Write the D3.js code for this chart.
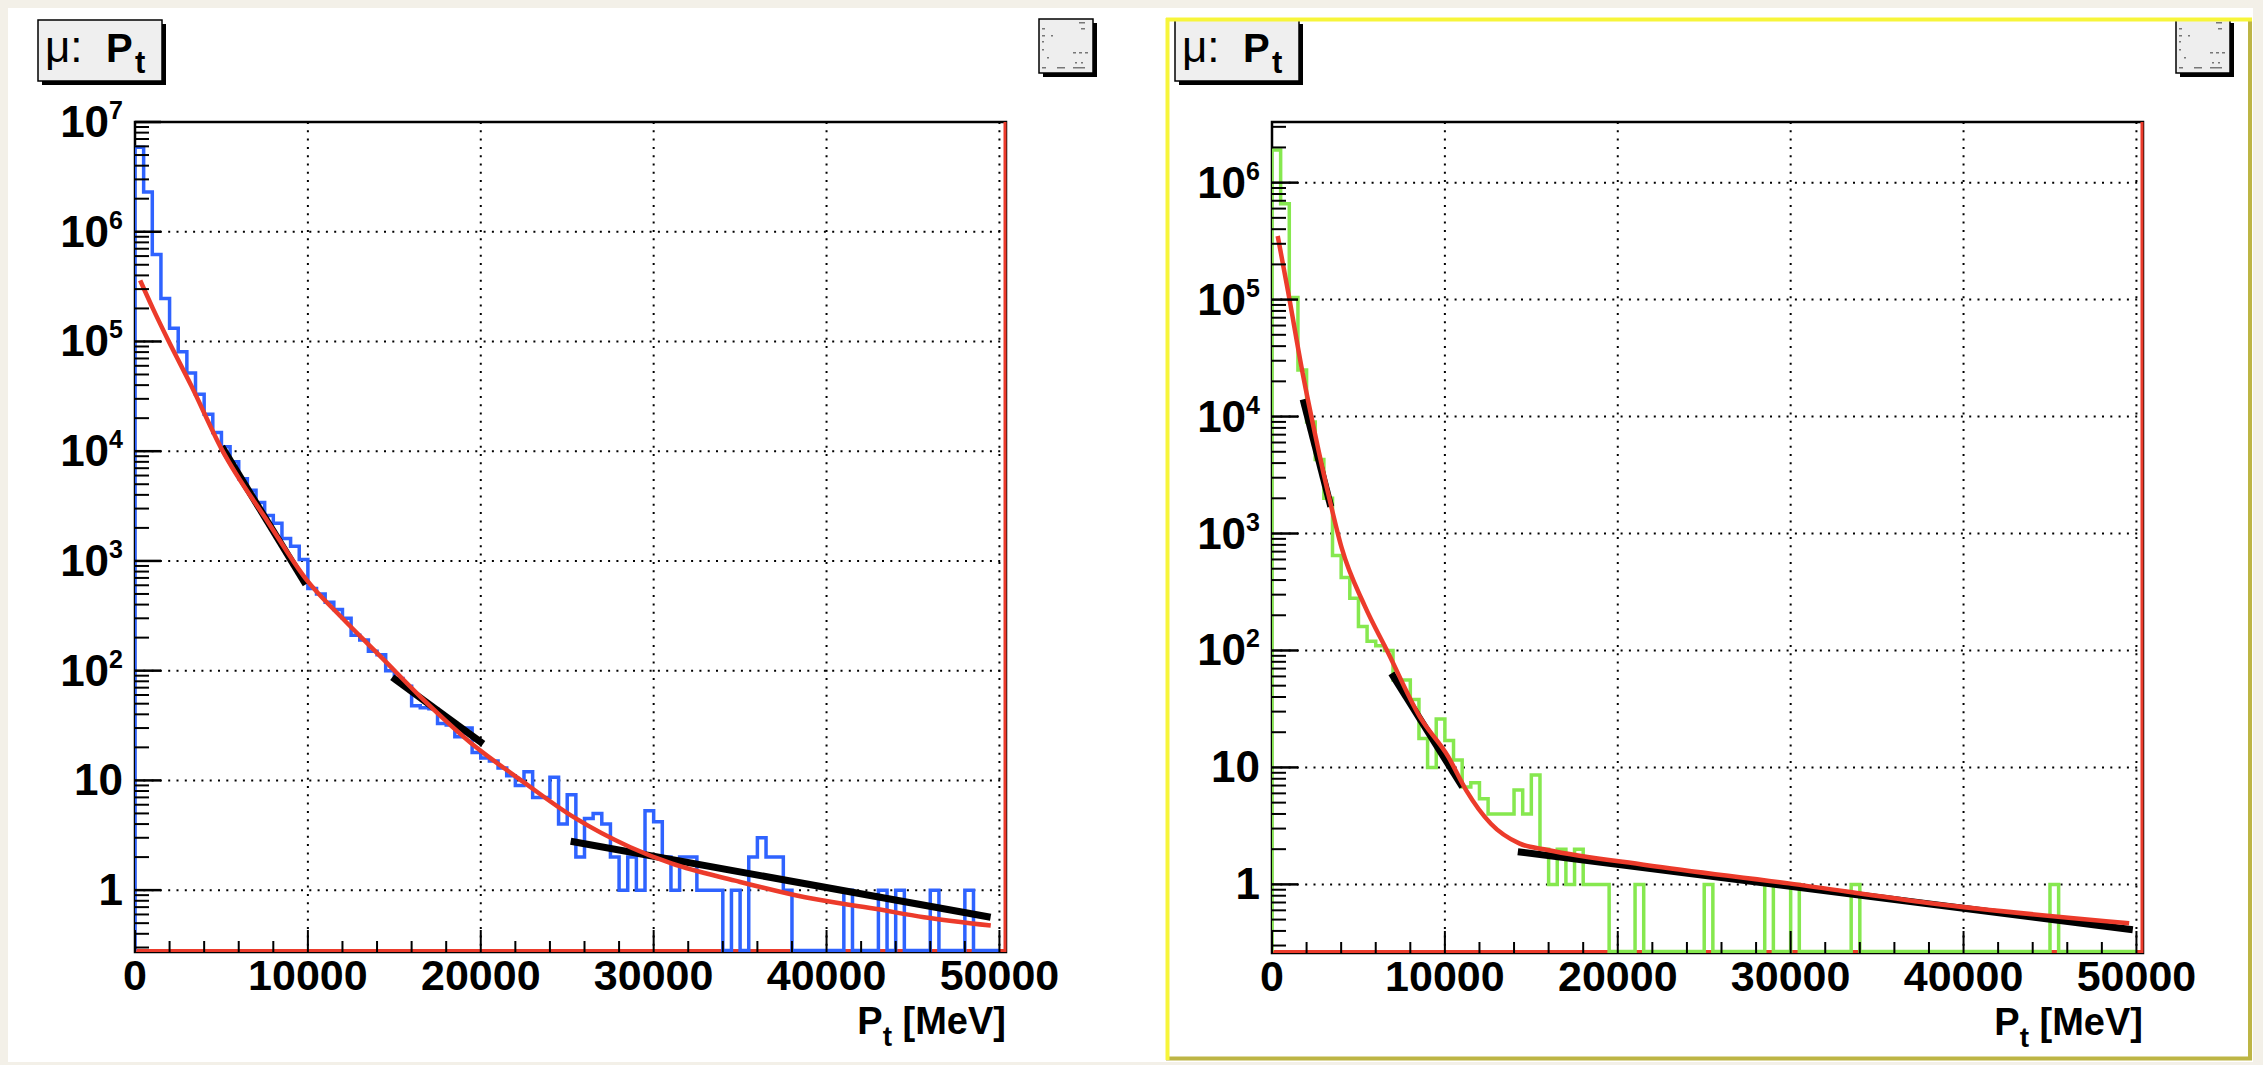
<!DOCTYPE html>
<html>
<head>
<meta charset="utf-8">
<script src="https://cdn.jsdelivr.net/npm/d3@7"></script>
<style>
  html, body { margin: 0; padding: 0; background: #f3f0e8; }
  svg { display: block; }
  text { font-family: "Liberation Sans", Arial, Helvetica, sans-serif; }
</style>
</head>
<body>
<svg id="canvas" width="2263" height="1065"></svg>
<script>
// ---- data ---------------------------------------------------------------
const binWidth = 500;                 // MeV per histogram bin
const xMax = 50380;                   // axis range end (MeV)
const xTicks = [0, 10000, 20000, 30000, 40000, 50000];
const xMinorStep = 2000;

// muon Pt spectrum, first sample (blue), 100 bins of 500 MeV
const countsBlue = [
  5.9e6, 2.3e6, 6.2e5, 2.46e5, 1.32e5, 8.06e4, 5.17e4, 3.3e4, 2.17e4, 1.48e4,
  1.1e4, 8.0e3, 5.6e3, 4.4e3, 3.4e3, 2.6e3, 2.2e3, 1.6e3, 1.36e3, 1.03e3,
  560, 500, 420, 360, 300, 210, 190, 150, 140, 100,
  85, 72, 48, 46, 45, 33, 32, 25, 30, 18,
  16, 15, 13, 11, 9, 12, 7, 7, 10.7, 4,
  7.4, 2, 4.5, 5, 4, 2, 1, 2, 1, 5.3,
  4.2, 2, 1, 2, 2, 1, 1, 1, 0, 1,
  0, 2, 3, 2, 2, 1, 0, 0, 0, 0,
  0, 0, 1, 0, 0, 0, 1, 0, 1, 0,
  0, 0, 1, 0, 0, 0, 1, 0, 0, 0
];
// second sample (green)
const countsGreen = [
  1.9e6, 6.6e5, 1.04e5, 2.5e4, 9.0e3, 4.3e3, 2.0e3, 650, 420, 280,
  160, 120, 110, 100, 56, 56, 38, 17.7, 10, 26,
  17, 11.6, 6.8, 7.4, 5.4, 4, 4, 4, 6.4, 4,
  8.6, 2, 1, 2, 1, 2, 1, 1, 1, 0,
  0, 0, 1, 0, 0, 0, 0, 0, 0, 0,
  1, 0, 0, 0, 0, 0, 0, 1, 0, 0,
  1, 0, 0, 0, 0, 0, 0, 1, 0, 0,
  0, 0, 0, 0, 0, 0, 0, 0, 0, 0,
  0, 0, 0, 0, 0, 0, 0, 0, 0, 0,
  1, 0, 0, 0, 0, 0, 0, 0, 0, 0
];

// global fit curves (red), [Pt, value]
const fitBlue = [
  [300, 3.6e5], [1045, 1.98e5], [1927, 1.02e5], [3250, 3.97e4], [5020, 1.04e4],
  [7670, 2.29e3], [9880, 687], [12000, 300], [14300, 130], [16500, 58],
  [19735, 20], [22160, 10.5], [25400, 4.6], [28650, 2.46], [31070, 1.74],
  [34710, 1.22], [38760, 0.86], [42810, 0.676], [45640, 0.566], [49500, 0.475]
];
const fitGreen = [
  [330, 3.5e5], [930, 1.17e5], [1810, 2.2e4], [2480, 7.2e3], [3365, 1.86e3],
  [4030, 752], [5350, 243], [6680, 98], [8555, 27], [10200, 12.3],
  [11225, 6.4], [12660, 3.3], [14300, 2.24], [15940, 1.97], [21690, 1.46],
  [29890, 1.02], [38100, 0.69], [49580, 0.465]
];

// partial-range exponential fits (black), each [[Pt, value], [Pt, value]]
const segBlue = [
  [[5020, 1.1e4], [9880, 611]],
  [[14880, 87], [20140, 21.5]],
  [[25200, 2.79], [49490, 0.566]]
];
const segGreen = [
  [[1800, 1.4e4], [3400, 1.7e3]],
  [[6910, 63.6], [11020, 6.8]],
  [[14220, 1.9], [49790, 0.41]]
];

// ---- drawing ------------------------------------------------------------
const svg = d3.select("#canvas");
const W = 2263, H = 1065;

svg.append("rect").attr("x", 0).attr("y", 0).attr("width", W).attr("height", H).attr("fill", "#f3f0e8");
svg.append("rect").attr("x", 8).attr("y", 8).attr("width", 2245).attr("height", 1054).attr("fill", "#ffffff");

const RED = "#ec3b2b", BLACK = "#000000";

function supLabel(sel, exp) {
  if (exp === 0) { sel.text("1"); return; }
  if (exp === 1) { sel.text("10"); return; }
  sel.append("tspan").text("10");
  sel.append("tspan").attr("font-size", 25).attr("dy", -18).text(exp);
}

function titleBox(g, x, y) {
  g.append("rect").attr("x", x + 4).attr("y", y + 4).attr("width", 124).attr("height", 61).attr("fill", "#000");
  g.append("rect").attr("x", x).attr("y", y).attr("width", 124).attr("height", 61)
    .attr("fill", "#efefef").attr("stroke", "#000").attr("stroke-width", 1.5);
  g.append("text").attr("x", x + 7).attr("y", y + 42).attr("font-size", 44).text("\u03bc:");
  g.append("text").attr("x", x + 68).attr("y", y + 42).attr("font-size", 40).attr("font-weight", "bold").text("P");
  g.append("text").attr("x", x + 97).attr("y", y + 53).attr("font-size", 31).attr("font-weight", "bold").text("t");
}

function iconBox(g, x, y) {
  g.append("rect").attr("x", x + 4).attr("y", y + 4).attr("width", 54).attr("height", 54).attr("fill", "#000");
  g.append("rect").attr("x", x).attr("y", y).attr("width", 54).attr("height", 54)
    .attr("fill", "#eeeeee").attr("stroke", "#000").attr("stroke-width", 1.5);
  const marks = [[40,3,6],[42,9,4],[3,9,3],[3,16,3],[12,16,2],[3,30,2],[34,33,3],[40,33,3],[46,33,3],
                 [8,38,2],[36,43,2],[42,43,2],[3,48,4],[18,48,8],[34,48,12],[3,22,2]];
  g.selectAll(null).data(marks).enter().append("rect")
    .attr("x", d => x + d[0]).attr("y", d => y + d[1]).attr("width", d => d[2]).attr("height", 1.5)
    .attr("fill", "#777");
}

function panel(cfg) {
  const g = svg.append("g");
  const { left, right, top, bottom } = cfg.frame;
  const x = d3.scaleLinear().domain([0, xMax]).range([left, right]);
  const y = d3.scaleLog().domain([cfg.yMin, cfg.yMax]).range([bottom, top]);
  const yv = v => (v <= cfg.yMin ? bottom : Math.max(top, y(v)));

  const clipId = "clip" + cfg.id;
  g.append("clipPath").attr("id", clipId).append("rect")
    .attr("x", left).attr("y", top).attr("width", right - left).attr("height", bottom - top);

  // grid
  const expLo = Math.ceil(Math.log10(cfg.yMin)), expHi = Math.floor(Math.log10(cfg.yMax));
  const decades = d3.range(expLo, expHi + 1);
  g.append("g").selectAll("line").data(decades.filter(e => y(10 ** e) > top + 1)).enter().append("line")
    .attr("x1", left).attr("x2", right).attr("y1", e => y(10 ** e)).attr("y2", e => y(10 ** e))
    .attr("stroke", "#000").attr("stroke-width", 2).attr("stroke-dasharray", "2,6.3");
  g.append("g").selectAll("line").data(xTicks.filter(v => v > 0)).enter().append("line")
    .attr("x1", d => x(d)).attr("x2", d => x(d)).attr("y1", top).attr("y2", bottom)
    .attr("stroke", "#000").attr("stroke-width", 2).attr("stroke-dasharray", "2,6.3");

  // frame
  g.append("rect").attr("x", left).attr("y", top).attr("width", right - left).attr("height", bottom - top)
    .attr("fill", "none").attr("stroke", "#000").attr("stroke-width", 2.5);

  // fit function outline (red) along bottom and right edge
  g.append("line").attr("x1", left).attr("x2", right).attr("y1", bottom - 1.5).attr("y2", bottom - 1.5)
    .attr("stroke", RED).attr("stroke-width", 3);
  g.append("line").attr("x1", right - 1).attr("x2", right - 1).attr("y1", top).attr("y2", bottom)
    .attr("stroke", RED).attr("stroke-width", 3);

  // histogram as step outline
  const counts = cfg.counts;
  let d = `M${x(0)},${bottom - 1.5}`;
  counts.forEach((c, i) => {
    const yy = Math.min(yv(c), bottom - 1.5);
    d += `L${x(i * binWidth)},${yy}L${x((i + 1) * binWidth)},${yy}`;
  });
  d += `L${x(counts.length * binWidth)},${bottom - 1.5}`;
  g.append("path").attr("d", d).attr("fill", "none").attr("stroke", cfg.color)
    .attr("stroke-width", 3.5).attr("stroke-linejoin", "miter").attr("clip-path", `url(#${clipId})`);

  // black partial fits
  const line = d3.line().x(p => x(p[0])).y(p => y(p[1]));
  g.append("g").selectAll("path").data(cfg.segs).enter().append("path")
    .attr("d", line).attr("fill", "none").attr("stroke", BLACK).attr("stroke-width", 7)
    .attr("clip-path", `url(#${clipId})`);

  // red global fit
  g.append("path").datum(cfg.fit)
    .attr("d", d3.line().x(p => x(p[0])).y(p => y(p[1])).curve(d3.curveMonotoneX))
    .attr("fill", "none").attr("stroke", RED).attr("stroke-width", 4.5)
    .attr("clip-path", `url(#${clipId})`);

  // y ticks
  const yMajor = decades;
  const yMinor = [];
  d3.range(expLo - 1, expHi + 1).forEach(e => d3.range(2, 10).forEach(k => {
    const v = k * 10 ** e; if (v > cfg.yMin && v < cfg.yMax) yMinor.push(v);
  }));
  g.append("g").selectAll("line").data(yMinor).enter().append("line")
    .attr("x1", left).attr("x2", left + 14).attr("y1", v => y(v)).attr("y2", v => y(v))
    .attr("stroke", "#000").attr("stroke-width", 2);
  g.append("g").selectAll("line").data(yMajor).enter().append("line")
    .attr("x1", left).attr("x2", left + 26).attr("y1", e => y(10 ** e)).attr("y2", e => y(10 ** e))
    .attr("stroke", "#000").attr("stroke-width", 2.5);

  // x ticks
  const xMinor = d3.range(xMinorStep, 50001, xMinorStep).filter(v => v % 10000 !== 0);
  g.append("g").selectAll("line").data(xMinor).enter().append("line")
    .attr("x1", v => x(v)).attr("x2", v => x(v)).attr("y1", bottom).attr("y2", bottom - 11)
    .attr("stroke", "#000").attr("stroke-width", 2);
  g.append("g").selectAll("line").data(xTicks).enter().append("line")
    .attr("x1", v => x(v)).attr("x2", v => x(v)).attr("y1", bottom).attr("y2", bottom - 22)
    .attr("stroke", "#000").attr("stroke-width", 2);

  // labels
  g.append("g").selectAll("text").data(xTicks).enter().append("text")
    .attr("x", v => x(v)).attr("y", bottom + 38).attr("text-anchor", "middle")
    .attr("font-size", 43).attr("font-weight", "bold").text(v => String(v));
  g.append("g").selectAll("text").data(yMajor).enter().append("text")
    .attr("x", left - 12).attr("y", e => y(10 ** e) + 15).attr("text-anchor", "end")
    .attr("font-size", 44).attr("font-weight", "bold")
    .each(function (e) { supLabel(d3.select(this), e); });

  const at = g.append("text").attr("x", right).attr("y", bottom + 82).attr("text-anchor", "end")
    .attr("font-size", 38).attr("font-weight", "bold");
  at.append("tspan").text("P");
  at.append("tspan").attr("font-size", 28).attr("dy", 12).text("t");
  at.append("tspan").attr("dy", -12).text(" [MeV]");

  titleBox(g, cfg.titleX, 20);
  iconBox(g, cfg.iconX, 19);
}

panel({ id: "L", frame: { left: 135, right: 1006, top: 122, bottom: 952 },
  yMin: 0.273, yMax: 1e7, counts: countsBlue, color: "#2f63ff", fit: fitBlue, segs: segBlue,
  titleX: 38, iconX: 1039 });

panel({ id: "R", frame: { left: 1272, right: 2143, top: 122, bottom: 953 },
  yMin: 0.259, yMax: 3.3e6, counts: countsGreen, color: "#86e84f", fit: fitGreen, segs: segGreen,
  titleX: 1175, iconX: 2176 });

// selected pad outline: bright top/left edges, darker bottom/right edges
svg.append("line").attr("x1", 1166).attr("x2", 2252).attr("y1", 1058.5).attr("y2", 1058.5).attr("stroke", "#bdb545").attr("stroke-width", 4);
svg.append("line").attr("x1", 2250).attr("x2", 2250).attr("y1", 18).attr("y2", 1060).attr("stroke", "#bdb545").attr("stroke-width", 4);
svg.append("line").attr("x1", 1166).attr("x2", 2252).attr("y1", 19.5).attr("y2", 19.5).attr("stroke", "#f7f53a").attr("stroke-width", 4);
svg.append("line").attr("x1", 1167.5).attr("x2", 1167.5).attr("y1", 18).attr("y2", 1060).attr("stroke", "#f7f53a").attr("stroke-width", 4);
</script>
</body>
</html>
